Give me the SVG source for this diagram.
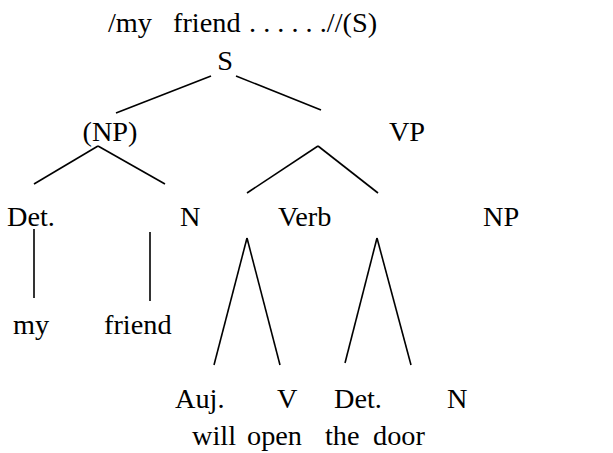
<svg xmlns="http://www.w3.org/2000/svg" width="613" height="453" viewBox="0 0 613 453">
<style>
text{font-family:"Liberation Serif","Times New Roman",serif;font-size:28.3px;fill:#000}
.c line{stroke:#000;stroke-width:1.6}
</style>
<rect width="613" height="453" fill="#fff"/>
<g id="title"><text y="32"><tspan x="108">/my</tspan><tspan x="173">friend</tspan><tspan x="249">. . . . . .//(S)</tspan></text></g>
<g id="S"><text x="225" y="70" text-anchor="middle">S</text></g>
<g id="NP1"><text x="110" y="141" text-anchor="middle">(NP)</text></g>
<g id="VP"><text x="407" y="141" text-anchor="middle">VP</text></g>
<g id="Det1"><text x="7" y="226">Det.</text></g>
<g id="N1"><text x="180" y="226">N</text></g>
<g id="Verb"><text x="278" y="226">Verb</text></g>
<g id="NP2"><text x="483" y="226">NP</text></g>
<g id="my"><text x="13" y="334">my</text></g>
<g id="friend"><text x="104" y="334">friend</text></g>
<g id="Auj"><text x="175" y="408">Auj.</text></g>
<g id="V"><text x="277" y="408">V</text></g>
<g id="Det2"><text x="334" y="408">Det.</text></g>
<g id="N2"><text x="447" y="408">N</text></g>
<g id="words"><text y="445"><tspan x="192">will</tspan><tspan x="247">open</tspan><tspan x="325">the</tspan><tspan x="373">door</tspan></text></g>
<g id="connectors" class="c">
<line x1="211" y1="76" x2="116" y2="113"/>
<line x1="236" y1="76" x2="321" y2="110"/>
<line x1="98" y1="146" x2="34" y2="184"/>
<line x1="98" y1="146" x2="165" y2="184"/>
<line x1="318" y1="146" x2="247" y2="193"/>
<line x1="318" y1="146" x2="378" y2="193"/>
<line x1="34" y1="229" x2="34" y2="298"/>
<line x1="150" y1="232" x2="150" y2="301"/>
<line x1="247" y1="238" x2="214" y2="365"/>
<line x1="247" y1="238" x2="280" y2="365"/>
<line x1="377" y1="238" x2="345" y2="363"/>
<line x1="377" y1="238" x2="411" y2="365"/>
</g>
</svg>
